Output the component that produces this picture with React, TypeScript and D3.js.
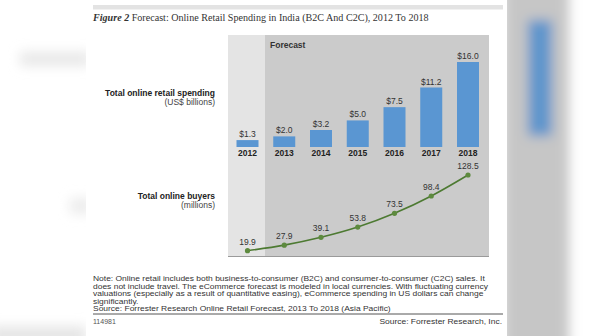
import React from 'react';
import * as d3 from 'd3';

const years = ['2012', '2013', '2014', '2015', '2016', '2017', '2018'];
const spending = [1.3, 2.0, 3.2, 5.0, 7.5, 11.2, 16.0];
const spendingLabels = ['$1.3', '$2.0', '$3.2', '$5.0', '$7.5', '$11.2', '$16.0'];
const buyers = [19.9, 27.9, 39.1, 53.8, 73.5, 98.4, 128.5];
const buyerLabels = ['19.9', '27.9', '39.1', '53.8', '73.5', '98.4', '128.5'];
const noteLines = [
  'Note: Online retail includes both business-to-consumer (B2C) and consumer-to-consumer (C2C) sales. It',
  'does not include travel. The eCommerce forecast is modeled in local currencies. With fluctuating currency',
  'valuations (especially as a result of quantitative easing), eCommerce spending in US dollars can change',
  'significantly.',
  'Source: Forrester Research Online Retail Forecast, 2013 To 2018 (Asia Pacific)',
];

const W = 596;
const H = 336;
const SANS = '"Liberation Sans", Arial, sans-serif';
const SERIF = '"Liberation Serif", "Times New Roman", serif';

export default function App() {
  const x = d3.scalePoint<string>().domain(years).range([247.5, 468]);
  const yBar = d3.scaleLinear().domain([0, 16]).range([147, 62]);
  const yLine = d3.scaleLinear().domain([0, 128.5]).range([264.6, 175]);
  const barW = 22;
  const line = d3
    .line<number>()
    .x((_, i) => x(years[i]) as number)
    .y((d) => yLine(d))
    .curve(d3.curveMonotoneX);

  return (
    <svg
      width={W}
      height={H}
      style={{ position: 'absolute', left: 0, top: 0, background: '#ffffff' }}
    >
      <defs>
        <filter id="blur" x="-50%" y="-50%" width="200%" height="200%">
          <feGaussianBlur stdDeviation="6" />
        </filter>
      </defs>
      {/* blurred surroundings */}
      <g filter="url(#blur)">
        <rect x={503} y={-20} width={66} height={380} fill="#c6c6c6" />
        <rect x={528} y={20} width={24} height={116} fill="#5f95cc" />
        <rect x={20} y={52} width={70} height={14} fill="#e8e8e8" />
        <rect x={70} y={198} width={22} height={16} fill="#ececec" />
        <rect x={-10} y={326} width={96} height={20} fill="#e6e6e6" />
      </g>
      <rect x={86} y={0} width={421} height={H} fill="#ffffff" />
      <rect x={93} y={5} width={410} height={4.5} fill="#e3e3e3" />

      {/* title */}
      <text x={93} y={20.5} fontFamily={SERIF} fontSize={10.1} fill="#333">
        <tspan fontStyle="italic" fontWeight="bold">Figure 2</tspan> Forecast: Online Retail Spending in India (B2C And C2C), 2012 To 2018
      </text>

      {/* panel */}
      <rect x={228} y={35} width={261} height={222} fill="#e4e4e4" />
      <rect x={265} y={35} width={224} height={222} fill="#cbcbcb" />
      <line x1={228} x2={489} y1={256.5} y2={256.5} stroke="#9a9a9a" strokeWidth={1} />
      <text x={270} y={48} fontFamily={SANS} fontSize={8.5} fontWeight="bold" fill="#333">
        Forecast
      </text>

      {/* left labels */}
      <g fontFamily={SANS} fill="#222" textAnchor="end">
        <text x={215} y={96} fontSize={8.5} fontWeight="bold">Total online retail spending</text>
        <text x={215} y={105} fontSize={8.5} fill="#444">(US$ billions)</text>
        <text x={215} y={199} fontSize={8.5} fontWeight="bold">Total online buyers</text>
        <text x={215} y={208} fontSize={8.5} fill="#444">(millions)</text>
      </g>

      {/* bars */}
      <g>
        {spending.map((v, i) => (
          <rect
            key={years[i]}
            x={(x(years[i]) as number) - barW / 2}
            y={yBar(v)}
            width={barW}
            height={yBar(0) - yBar(v)}
            fill="#5a96d2"
          />
        ))}
      </g>
      <g fontFamily={SANS} textAnchor="middle">
        {spending.map((v, i) => (
          <text key={'v' + i} x={x(years[i])} y={yBar(v) - 3} fontSize={8.5} fill="#333">
            {spendingLabels[i]}
          </text>
        ))}
        {years.map((yr) => (
          <text key={'y' + yr} x={x(yr)} y={155.5} fontSize={8.5} fontWeight="bold" fill="#222">
            {yr}
          </text>
        ))}
      </g>

      {/* line */}
      <path d={line(buyers) || ''} fill="none" stroke="#4d7a32" strokeWidth={1.6} />
      {buyers.map((v, i) => (
        <circle key={'c' + i} cx={x(years[i])} cy={yLine(v)} r={2.6} fill="#5d8a3e" />
      ))}
      <g fontFamily={SANS} textAnchor="middle" fontSize={8.5} fill="#333">
        {buyers.map((v, i) => (
          <text key={'l' + i} x={x(years[i])} y={yLine(v) - 6}>
            {buyerLabels[i]}
          </text>
        ))}
      </g>

      {/* notes */}
      <g fontFamily={SANS} fontSize={7.3} fill="#333" transform="translate(93,0) scale(1.16,1)">
        {noteLines.map((t, i) => (
          <text key={'n' + i} x={0} y={281 + i * 7.6}>
            {t}
          </text>
        ))}
      </g>
      <line x1={93} x2={503} y1={314} y2={314} stroke="#555" strokeWidth={1} />
      <text x={93} y={324} fontFamily={SANS} fontSize={7} fill="#555">114981</text>
      <text
        x={0}
        y={324}
        fontFamily={SANS}
        fontSize={7.3}
        fill="#333"
        textAnchor="end"
        transform="translate(502,0) scale(1.16,1)"
      >
        Source: Forrester Research, Inc.
      </text>
    </svg>
  );
}
